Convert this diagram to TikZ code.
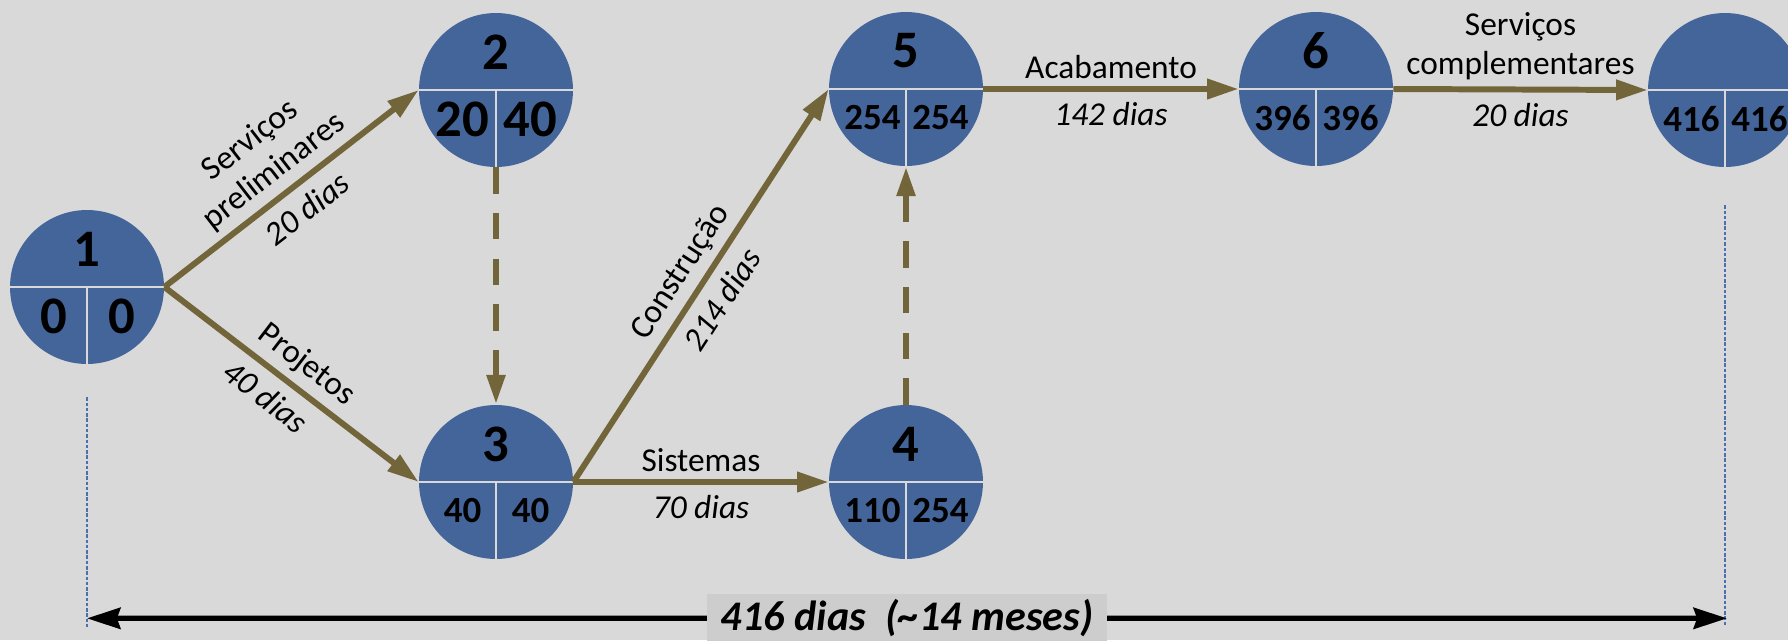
\documentclass[tikz,border=0pt]{standalone}
\usepackage{fontspec}
\setmainfont{Carlito}
\usetikzlibrary{arrows.meta}

\definecolor{fundo}{HTML}{D9D9D9}
\definecolor{azulno}{HTML}{44659A}
\definecolor{oliva}{HTML}{73653A}
\definecolor{caixa}{HTML}{CDCDCD}
\definecolor{guiaazul}{HTML}{4A70B0}

\tikzset{
  evento/.style={circle, fill=azulno, minimum size=3.08cm, inner sep=0pt},
  divisor/.style={draw=fundo, line width=1.6pt},
  numtopo/.style={font=\fontsize{30}{30}\selectfont\bfseries, inner sep=0pt},
  numgrande/.style={font=\fontsize{30}{30}\selectfont\bfseries, inner sep=0pt},
  numpeq/.style={font=\fontsize{21}{21}\selectfont\bfseries, inner sep=0pt},
  atividade/.style={draw=oliva, line width=3.4pt,
    -{Triangle[length=18pt, width=11pt]}},
  fantasma/.style={draw=oliva, line width=3.8pt, dash pattern=on 15pt off 11pt,
    -{Triangle[length=17pt, width=10pt]}},
  rotulo/.style={font=\fontsize{19}{22}\selectfont, align=center, inner sep=4pt},
  duracao/.style={font=\fontsize{19}{22}\selectfont\itshape, inner sep=6pt},
  guia/.style={draw=guiaazul, line width=0.9pt, dash pattern=on 2pt off 1pt},
  cota/.style={draw=black, line width=3pt,
    {Stealth[length=19pt, width=12pt, inset=2pt]}-{Stealth[length=19pt, width=12pt, inset=2pt]}},
}

% evento: nome, posicao, numero, cedo, tarde, estilo dos numeros de baixo
\newcommand{\evento}[6]{%
  \node[evento] (#1) at (#2) {};
  \draw[divisor] (#1.west) -- (#1.east);
  \draw[divisor] (#1.center) -- (#1.south);
  \node[numtopo] (#1-num) at ([yshift=0.76cm]#1.center) {#3};
  \node[#6] (#1-ced) at ([xshift=-0.67cm, yshift=-0.58cm]#1.center) {#4};
  \node[#6] (#1-tar) at ([xshift=0.69cm, yshift=-0.58cm]#1.center) {#5};
}

\begin{document}
\begin{tikzpicture}[x=0.02cm, y=-0.02cm]
  \useasboundingbox (0,0) rectangle (1788,640);
  \clip (0,0) rectangle (1788,640);
  \fill[fundo] (0,0) rectangle (1788,640);

  % eventos
  \evento{n1}{87,287}{1}{0}{0}{numgrande}
  \evento{n2}{496,90}{2}{20}{40}{numgrande}
  \evento{n3}{496,482}{3}{40}{40}{numpeq}
  \evento{n4}{906,482}{4}{110}{254}{numpeq}
  \evento{n5}{906,89}{5}{254}{254}{numpeq}
  \evento{n6}{1316,89}{6}{396}{396}{numpeq}
  \evento{n7}{1725,90}{}{416}{416}{numpeq}

  % atividades
  \draw[atividade] (n1.east) --
    node[rotulo, sloped, above, pos=0.49] {Serviços\\preliminares}
    node[duracao, sloped, below, pos=0.5] {20 dias} (n2.west);
  \draw[atividade] (n1.east) --
    node[rotulo, sloped, above, pos=0.5] {Projetos}
    node[duracao, sloped, below, pos=0.46] {40 dias} (n3.west);
  \draw[atividade] (n3.east) --
    node[rotulo, sloped, above, pos=0.5] {Construção}
    node[duracao, sloped, below, pos=0.5] {214 dias} (n5.west);
  \draw[atividade] (n3.east) --
    node[rotulo, above] {Sistemas}
    node[duracao, below] {70 dias} (n4.west);
  \draw[atividade] (n5.east) --
    node[rotulo, above] {Acabamento}
    node[duracao, below] {142 dias} (n6.west);
  \draw[atividade] (n6.east) --
    node[rotulo, above] {Serviços\\complementares}
    node[duracao, below] {20 dias} (n7.west);

  % atividades fantasmas
  \draw[fantasma] (n2.south) -- (n3.north);
  \draw[fantasma] (n4.north) -- (n5.south);

  % duracao total
  \coordinate (ini) at ([yshift=-0.66cm]n1.south);
  \coordinate (fim) at ([yshift=-0.76cm]n7.south);
  \draw[guia] (ini) -- ++(0,230) coordinate (iniB);
  \draw[guia] (fim) -- ++(0,420) coordinate (fimB);
  \draw[cota] ([yshift=0.18cm]iniB) -- ([yshift=0.14cm, xshift=0.04cm]fimB)
    node[midway, fill=caixa, minimum width=8cm, minimum height=0.92cm,
      font=\fontsize{24}{24}\selectfont\bfseries\itshape] (total) {416 dias\ \ (\textasciitilde14 meses)};
\end{tikzpicture}
\end{document}
